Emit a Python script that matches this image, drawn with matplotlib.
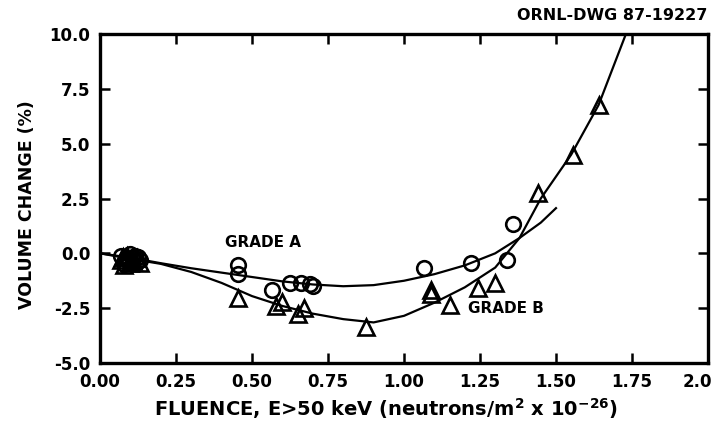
import matplotlib
matplotlib.use("Agg")
import matplotlib.pyplot as plt
from matplotlib.transforms import ScaledTranslation

# Grade A (circles) measured points
a_x = [0.07, 0.09, 0.11, 0.12, 0.08, 0.10, 0.13, 0.085, 0.115, 0.095, 0.125,
       0.455, 0.455, 0.565, 0.625, 0.66, 0.69, 0.70,
       1.066, 1.22, 1.34, 1.36]
a_y = [-0.10, -0.30, -0.20, -0.40, -0.50, -0.05, -0.30, -0.25, -0.10, -0.40, -0.15,
       -0.55, -0.95, -1.67, -1.36, -1.35, -1.40, -1.50,
       -0.67, -0.45, -0.31, 1.35]

# Grade B (triangles) measured points
b_x = [0.07, 0.10, 0.12, 0.09, 0.11, 0.08, 0.13, 0.105, 0.075,
       0.455, 0.58, 0.60, 0.65, 0.67, 0.875, 1.09, 1.09,
       1.15, 1.245, 1.30, 1.44, 1.556, 1.64]
b_y = [-0.30, -0.45, -0.20, -0.10, -0.35, -0.55, -0.45, -0.25, -0.15,
       -2.05, -2.40, -2.20, -2.75, -2.50, -3.37, -1.65, -1.85,
       -2.36, -1.60, -1.36, 2.74, 4.48, 6.76]

# Fitted curves
curve_a_x = [0.0, 0.1, 0.2, 0.3, 0.4, 0.5, 0.6, 0.7, 0.8, 0.9, 1.0, 1.1, 1.2, 1.3, 1.38, 1.45, 1.5]
curve_a_y = [0.0, -0.2, -0.45, -0.68, -0.88, -1.08, -1.28, -1.42, -1.50, -1.45, -1.25, -0.95, -0.55,
             0.0, 0.7, 1.4, 2.06]
curve_b_x = [0.0, 0.1, 0.2, 0.3, 0.4, 0.5, 0.6, 0.7, 0.8, 0.9, 1.0, 1.1, 1.2, 1.3, 1.38, 1.45,
             1.55, 1.64, 1.73, 1.77]
curve_b_y = [0.0, -0.25, -0.48, -0.85, -1.35, -1.95, -2.40, -2.75, -3.00, -3.15, -2.85, -2.25, -1.55,
             -0.65, 0.7, 2.5, 4.5, 6.76, 10.0, 11.0]

x_ticks = [0.0, 0.25, 0.5, 0.75, 1.0, 1.25, 1.5, 1.75, 2.0]
x_tick_labels = ["0.00", "0.25", "0.50", "0.75", "1.00", "1.25", "1.50", "1.75", "2.0"]
y_ticks = [-5.0, -2.5, 0.0, 2.5, 5.0, 7.5, 10.0]
y_tick_labels = ["-5.0", "-2.5", "0.0", "2.5", "5.0", "7.5", "10.0"]

plt.rcParams['font.family'] = ['DejaVu Sans']

fig = plt.figure(figsize=(7.16, 4.21), dpi=100)
ax = fig.add_axes([0.1397, 0.1378, 0.8491, 0.7814])

ax.plot(curve_a_x, curve_a_y, color='black', lw=1.6)
ax.plot(curve_b_x, curve_b_y, color='black', lw=1.6)
ax.plot(a_x, a_y, linestyle='none', marker='o', ms=10.5, mfc='none', mec='black', mew=1.9)
ax.plot(b_x, b_y, linestyle='none', marker='^', ms=11, mfc='none', mec='black', mew=1.9)

ax.set_xlim(0, 2.0)
ax.set_ylim(-5, 10)
ax.set_xticks(x_ticks)
ax.set_xticklabels(x_tick_labels, fontsize=12, fontweight='bold')
ax.set_yticks(y_ticks)
ax.set_yticklabels(y_tick_labels, fontsize=12, fontweight='bold')
ax.tick_params(direction='in', length=7, width=1.8, top=True, right=True, pad=7)
for s in ax.spines.values():
    s.set_linewidth(2.4)

# keep the last x tick label inside the figure
last = ax.get_xticklabels()[-1]
last.set_horizontalalignment('right')
last.set_transform(last.get_transform() + ScaledTranslation(4 / 100, 0, fig.dpi_scale_trans))

ax.set_xlabel(r"FLUENCE, E>50 keV (neutrons/m$^{\mathbf{2}}$ x 10$^{\mathbf{-26}}$)",
              fontsize=14, fontweight='bold', labelpad=4)
ax.xaxis.label.set_x(0.47)
ax.set_ylabel("VOLUME CHANGE (%)", fontsize=12.5, fontweight='bold', labelpad=10)
ax.yaxis.label.set_y(0.48)

ax.text(0.535, 0.15, "GRADE A", fontsize=11, fontweight='bold', ha='center', va='bottom')
ax.text(1.21, -2.5, "GRADE B", fontsize=11, fontweight='bold', ha='left', va='center')
fig.text(0.988, 0.962, "ORNL-DWG 87-19227", fontsize=11.5, fontweight='bold', ha='right', va='center')

fig.savefig("out.png", dpi=100)
